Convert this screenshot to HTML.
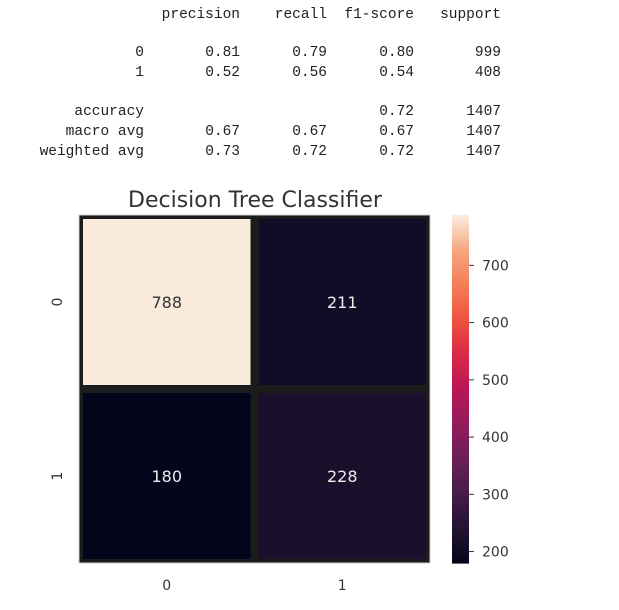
<!DOCTYPE html>
<html><head><meta charset="utf-8"><style>
html,body{margin:0;padding:0;background:#fff;width:619px;height:610px;overflow:hidden}
svg{display:block}
.mono{font-family:"Liberation Mono","DejaVu Sans Mono",monospace;font-size:14.5px;fill:#222}
.sans{font-family:"DejaVu Sans","Liberation Sans",sans-serif;fill:#333}
</style></head><body>
<svg id="s" width="619" height="610" xmlns="http://www.w3.org/2000/svg">
<g class="mono" text-anchor="end">
<text x="240" y="18">precision</text><text x="327" y="18">recall</text><text x="414" y="18">f1-score</text><text x="501" y="18">support</text>
<text x="144" y="56">0</text><text x="240" y="56">0.81</text><text x="327" y="56">0.79</text><text x="414" y="56">0.80</text><text x="501" y="56">999</text>
<text x="144" y="76">1</text><text x="240" y="76">0.52</text><text x="327" y="76">0.56</text><text x="414" y="76">0.54</text><text x="501" y="76">408</text>
<text x="144" y="115">accuracy</text><text x="414" y="115">0.72</text><text x="501" y="115">1407</text>
<text x="144" y="135">macro avg</text><text x="240" y="135">0.67</text><text x="327" y="135">0.67</text><text x="414" y="135">0.67</text><text x="501" y="135">1407</text>
<text x="144" y="155">weighted avg</text><text x="240" y="155">0.73</text><text x="327" y="155">0.72</text><text x="414" y="155">0.72</text><text x="501" y="155">1407</text>
</g>
<text class="sans" x="255" y="207" font-size="22" text-anchor="middle">Decision Tree Classifier</text>
<rect x="79" y="215" width="351" height="348" fill="#1c1c1c" stroke="#ccc" stroke-width="1"/>
<g id="cells"></g>
<g id="cbar"></g>
</svg>
<script>
const rowLabels=["0","1"];
const colLabels=["0","1"];
const values=[[788,211],[180,228]];
const cbarTicks=[200,300,400,500,600,700];
const ns="http://www.w3.org/2000/svg";
const stops=["#03051A","#221331","#451C47","#6A1F56","#921C5B","#B91657","#D92847","#ED503E","#F47D57","#F6A47C","#FAEBDD"];
function hx(h){return [1,3,5].map(i=>parseInt(h.substr(i,2),16));}
function cmap(t){t=Math.max(0,Math.min(1,t));const p=t*10,i=Math.min(9,Math.floor(p)),f=p-i;const a=hx(stops[i]),b=hx(stops[i+1]);return "rgb("+a.map((v,k)=>Math.round(v+(b[k]-v)*f)).join(",")+")";}
const flat=values.flat(),vmin=Math.min(...flat),vmax=Math.max(...flat);
const X0=79,Y0=215,W=351,H=348,g=3;
const cw=W/colLabels.length,ch=H/rowLabels.length;
const xs=c=>X0+c*cw, ys=r=>Y0+r*ch;
function el(t,a,p){const e=document.createElementNS(ns,t);for(const k in a)e.setAttribute(k,a[k]);p.appendChild(e);return e;}
const cells=document.getElementById('cells');
values.forEach((row,r)=>row.forEach((v,c)=>{
 const t=(v-vmin)/(vmax-vmin);
 const rc=el('rect',{x:xs(c)+g+1,y:ys(r)+g+1,width:cw-2*g-2,height:ch-2*g-2,fill:cmap(t)},cells);
 
 
 const tx=el('text',{x:xs(c)+cw/2,y:ys(r)+ch/2+6,'text-anchor':'middle','font-size':16,class:'sans',style:'fill:'+(t>0.5?'#333':'#eee')},cells);
 tx.textContent=v;
 
 
}));
colLabels.forEach((l,c)=>{const t=el('text',{x:xs(c)+cw/2,y:590,'text-anchor':'middle','font-size':14,class:'sans'},cells);t.textContent=l;
 
 });
rowLabels.forEach((l,r)=>{const y=ys(r)+ch/2;const t=el('text',{x:62,y:y,'text-anchor':'middle','font-size':14,class:'sans',transform:'rotate(-90 62 '+y+')'},cells);t.textContent=l;
 
 });
const cb=document.getElementById('cbar');
const CX=452,CW=17,CT=215,CB=563;
const cy=v=>CB-(v-vmin)/(vmax-vmin)*(CB-CT);
const N=120;
for(let i=0;i<N;i++){const r=el('rect',{x:CX,y:CT+(CB-CT)*i/N,width:CW,height:(CB-CT)/N+0.6,fill:cmap(1-i/N)},cb);
 
 }
cbarTicks.forEach(v=>{const y=cy(v);
 const l=el('line',{x1:CX+CW,x2:CX+CW+5,y1:y,y2:y,stroke:'#333','stroke-width':1},cb);
 
 
 const t=el('text',{x:CX+CW+13,y:y+5,'font-size':14,class:'sans'},cb);t.textContent=v;
 
 });
</script>
</body></html>
